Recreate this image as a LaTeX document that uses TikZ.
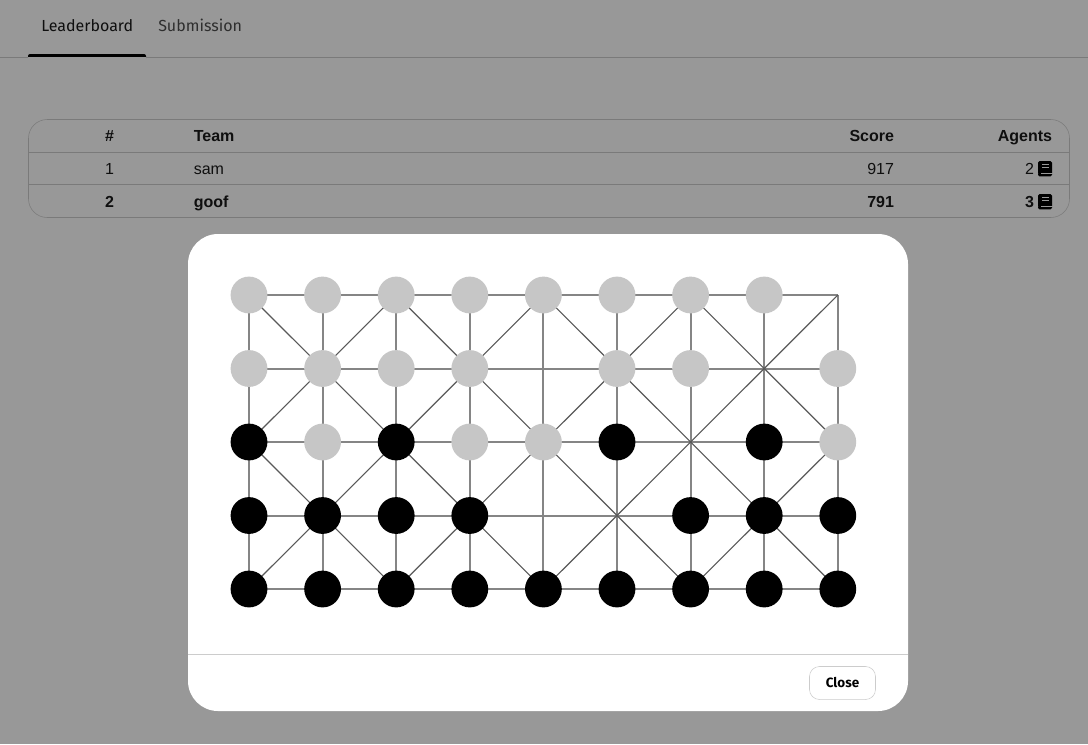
\documentclass[tikz,border=0pt]{standalone}
\usepackage{fontspec}
\setmainfont{Liberation Sans}
\newfontfamily\firafont{Fira Sans}
\definecolor{dimbg}{HTML}{989898}
\definecolor{dimline}{HTML}{7A7A7A}
\definecolor{dimtext}{HTML}{0F0F0F}
\definecolor{stonegray}{HTML}{C6C6C6}
\definecolor{panelline}{HTML}{CCCCCC}
\definecolor{boardline}{HTML}{858585}
\tikzset{
  stonelight/.style={circle,inner sep=0pt,minimum size=27.6pt,fill=stonegray},
  stonedark/.style={circle,inner sep=0pt,minimum size=27.6pt,fill=black},
  boardedge/.style={draw=boardline,line width=1.5pt},
  boardcross/.style={draw=black!65,line width=0.85pt},
  tabtext/.style={font=\firafont\fontsize{12}{14}\selectfont,inner sep=0pt,anchor=base west},
  celltext/.style={font=\fontsize{12}{14}\selectfont,text=dimtext,inner sep=0pt,anchor=base},
  cellbold/.style={celltext,font=\bfseries\fontsize{12}{14}\selectfont},
}
\newcommand{\bookicon}[1]{%
  \fill[black,rounded corners=1.2pt](#1)++(-7,-7.5)rectangle++(14,13.5);
  \fill[black,rounded corners=1pt](#1)++(-7,4)rectangle++(14,3.8);
  \fill[dimbg](#1)++(-4.5,4.6)rectangle++(11.5,1.1);
  \fill[dimbg](#1)++(-3.5,-4.8)rectangle++(7,1.3);
  \fill[dimbg](#1)++(-3.5,-1.7)rectangle++(7,1.3);
}
\begin{document}
\begin{tikzpicture}[x=0.75pt,y=-0.75pt]
  \useasboundingbox(0,0)rectangle(1088,744);
  \fill[dimbg](0,0)rectangle(1088,744);
  % tabs
  \fill[black,rounded corners=1.5pt](28,54)rectangle(146,60);
  \fill[dimbg](28,57.2)rectangle(146,61);
  \draw[dimline](0,57.5)--(28,57.5)(146,57.5)--(1088,57.5);
  \node[tabtext,text=dimtext] (tabboard) at (41,31) {Leaderboard};
  \node[tabtext,text=black!82] (tabsub) at (158,31) {Submission};
  % table
  \draw[dimline,rounded corners=14pt](28.5,119.5)rectangle(1069.5,217.5);
  \draw[dimline](28.5,152.5)--(1069.5,152.5)(28.5,184.5)--(1069.5,184.5);
  \node[cellbold] (headrank) at (109.5,141) {\#};
  \node[cellbold,anchor=base west] (headteam) at (193.5,141) {Team};
  \node[cellbold,anchor=base east] (headscore) at (894.3,141) {Score};
  \node[cellbold,anchor=base east] (headagents) at (1052.3,141) {Agents};
  \node[celltext] (rankone) at (109.5,174) {1};
  \node[celltext,anchor=base west] (teamone) at (193.5,174) {sam};
  \node[celltext,anchor=base east] (scoreone) at (894.3,174) {917};
  \node[celltext,anchor=base east] (agentsone) at (1034.3,174) {2};
  \node[cellbold] (ranktwo) at (109.5,207) {2};
  \node[cellbold,anchor=base west] (teamtwo) at (193.5,207) {goof};
  \node[cellbold,anchor=base east] (scoretwo) at (894.3,207) {791};
  \node[cellbold,anchor=base east] (agentstwo) at (1034.3,207) {3};
  \bookicon{1045,168.5}
  \bookicon{1045,201.5}
  % dialog
  \fill[white,rounded corners=22.5pt](188,234)rectangle(908,711);
  \draw[panelline](188,654.5)--(908,654.5);
  \node[draw=panelline,fill=white,rounded corners=7.5pt,minimum width=49.5pt,minimum height=24.75pt,inner sep=0pt,
    text=black] (closebtn) at (842.5,683) {};
  \node[font=\firafont\fontsize{10.1}{12}\selectfont\bfseries,text=black,inner sep=0pt] (closetext) at (842.5,682.2) {Close};
  % board
  \foreach \i in {0,...,8}
    \foreach \j in {0,...,4}
      \coordinate (p\i\j) at (249+73.6*\i,295+73.5*\j);
  \foreach \j in {0,...,4}
    \foreach \i [remember=\i as \k (initially 0)] in {1,...,8}
      \draw[boardedge] (p\k\j)--(p\i\j);
  \foreach \i in {0,...,8}
    \foreach \j [remember=\j as \k (initially 0)] in {1,...,4}
      \draw[boardedge] (p\i\k)--(p\i\j);
  % diagonals meet at the odd crossings
  \foreach \a/\b in {0/2,2/4,4/6,6/8}
    \foreach \c/\d in {0/2,2/4}
      \draw[boardcross] (p\a\c)--(p\b\d)(p\b\c)--(p\a\d);
  % stones
  \foreach \i/\j in {0/0,1/0,2/0,3/0,4/0,5/0,6/0,7/0,
    0/1,1/1,2/1,3/1,5/1,6/1,8/1,1/2,3/2,4/2,8/2}
    \node[stonelight] (s\i\j) at (p\i\j) {};
  \foreach \i/\j in {0/2,2/2,5/2,7/2,0/3,1/3,2/3,3/3,6/3,7/3,8/3,
    0/4,1/4,2/4,3/4,4/4,5/4,6/4,7/4,8/4}
    \node[stonedark] (s\i\j) at (p\i\j) {};
\end{tikzpicture}
\end{document}
